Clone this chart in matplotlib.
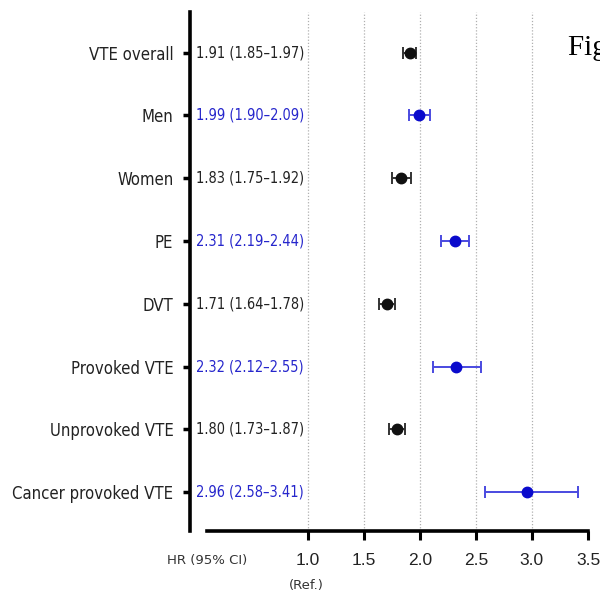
import matplotlib.pyplot as plt
from matplotlib import font_manager
from matplotlib.font_manager import FontProperties

# Hazard ratios mit 95%-Konfidenzintervall
gruppen = ['VTE overall', 'Men', 'Women', 'PE', 'DVT',
           'Provoked VTE', 'Unprovoked VTE', 'Cancer provoked VTE']
hr = [1.91, 1.99, 1.83, 2.31, 1.71, 2.32, 1.80, 2.96]
ci_unten = [1.85, 1.90, 1.75, 2.19, 1.64, 2.12, 1.73, 2.58]
ci_oben = [1.97, 2.09, 1.92, 2.44, 1.78, 2.55, 1.87, 3.41]
x_ticks = [1.0, 1.5, 2.0, 2.5, 3.0, 3.5]

schwarz = '#111111'
blau = '#0a0acc'
blau_linie = '#4a4ae0'
blau_text = '#2626cc'


# schmale Schrift suchen, sonst Liberation Sans
def schmale_schrift():
    for f in font_manager.fontManager.ttflist:
        datei = f.fname.lower()
        if ('narrow' in datei or 'condensed' in datei) and 'bold' not in datei \
                and 'oblique' not in datei and 'italic' not in datei:
            return FontProperties(fname=f.fname)
    return FontProperties(family='Liberation Sans')


schrift = schmale_schrift()

fig = plt.figure(figsize=(6.0, 5.96), dpi=100)
renderer = fig.canvas.get_renderer()


# Schriftgroesse so waehlen, dass der Text eine bestimmte Breite in Pixeln hat
def groesse_fuer_breite(text, breite_px):
    fp = schrift.copy()
    fp.set_size(10)
    t = fig.text(0, 0, text, fontproperties=fp)
    b = t.get_window_extent(renderer).width
    t.remove()
    return 10 * breite_px / b


groesse_label = groesse_fuer_breite('Cancer provoked VTE', 161)
groesse_wert = groesse_fuer_breite('1.91 (1.85\u20131.97)', 108)

ax = fig.add_axes([0.3167, 0.109, 0.6633, 0.871])

x_links = -0.048
ax.set_xlim(x_links, 3.5)
ax.set_ylim(7.62, -0.65)

for x in x_ticks[:-1]:
    ax.axvline(x, color='#b0b0b0', lw=0.9, ls=(0, (1, 1.5)), zorder=0)

fp_wert = schrift.copy()
fp_wert.set_size(groesse_wert)
for i in range(len(gruppen)):
    farbe = schwarz if i % 2 == 0 else blau
    linie = '#333333' if i % 2 == 0 else blau_linie
    text_farbe = '#222222' if i % 2 == 0 else blau_text
    ax.errorbar(hr[i], i, xerr=[[hr[i] - ci_unten[i]], [ci_oben[i] - hr[i]]],
                fmt='o', color=farbe, ecolor=linie, elinewidth=1.4,
                capsize=4.3, capthick=1.4, markersize=7.5, zorder=3)
    ax.text(0.005, i, f'{hr[i]:.2f} ({ci_unten[i]:.2f}\u2013{ci_oben[i]:.2f})',
            color=text_farbe, fontproperties=fp_wert,
            ha='left', va='center')

fp_label = schrift.copy()
fp_label.set_size(groesse_label)
ax.set_yticks(range(len(gruppen)))
ax.set_yticklabels(gruppen, fontproperties=fp_label, color='#222222')
ax.tick_params(axis='y', length=5, width=2.5, pad=7)

ax.set_xticks(x_ticks)
ax.set_xticklabels([f'{x:.1f}' for x in x_ticks], family='Liberation Sans',
                   fontsize=12.5, color='#222222')
ax.tick_params(axis='x', length=6.5, width=2.2, pad=9)

ax.spines['top'].set_visible(False)
ax.spines['right'].set_visible(False)
ax.spines['left'].set_linewidth(2.6)
ax.spines['bottom'].set_linewidth(2.6)
ax.spines['bottom'].set_bounds(0.1, 3.5)

fig.text(0.345, 0.0604, 'HR (95% CI)', family='DejaVu Sans', fontsize=9.5,
         color='#333333', ha='center', va='center')
fig.text(0.51, 0.017, '(Ref.)', family='DejaVu Sans', fontsize=9.5,
         color='#333333', ha='center', va='center')
fig.text(0.947, 0.908, 'Figure 1', family='Liberation Serif', fontsize=21,
         color='black', ha='left', va='baseline')

fig.savefig('out.png', dpi=100)
